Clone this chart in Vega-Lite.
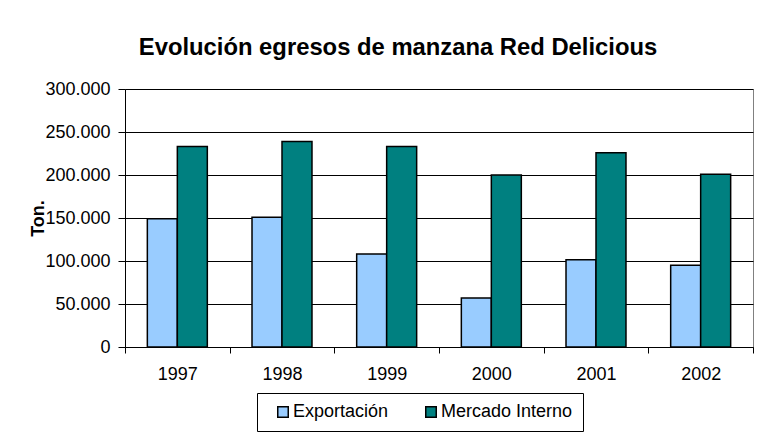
{
  "$schema": "https://vega.github.io/schema/vega-lite/v6.json",
  "autosize": "none",
  "width": 628,
  "height": 258,
  "padding": {"left": 125, "top": 89, "right": 9, "bottom": 92},
  "background": "white",
  "title": {
    "text": "Evolución egresos de manzana Red Delicious",
    "font": "Liberation Sans",
    "fontSize": 23.8,
    "fontWeight": "bold",
    "color": "#000000",
    "anchor": "middle",
    "dx": -41,
    "offset": 20
  },
  "data": {
    "values": [
      {"year": "1997", "serie": "Exportación", "ton": 149000},
      {"year": "1997", "serie": "Mercado Interno", "ton": 233000},
      {"year": "1998", "serie": "Exportación", "ton": 151000},
      {"year": "1998", "serie": "Mercado Interno", "ton": 239000},
      {"year": "1999", "serie": "Exportación", "ton": 108000},
      {"year": "1999", "serie": "Mercado Interno", "ton": 233000},
      {"year": "2000", "serie": "Exportación", "ton": 57000},
      {"year": "2000", "serie": "Mercado Interno", "ton": 200000},
      {"year": "2001", "serie": "Exportación", "ton": 101500},
      {"year": "2001", "serie": "Mercado Interno", "ton": 226000},
      {"year": "2002", "serie": "Exportación", "ton": 95000},
      {"year": "2002", "serie": "Mercado Interno", "ton": 201000}
    ]
  },
  "mark": {"type": "bar", "stroke": "#000000", "strokeWidth": 1.5},
  "encoding": {
    "x": {
      "field": "year",
      "type": "nominal",
      "scale": {"paddingInner": 0, "paddingOuter": 0},
      "axis": {
        "title": null,
        "labelAngle": 0,
        "tickBand": "extent",
        "tickSize": 6,
        "labelPadding": 12,
        "domainColor": "#000000",
        "tickColor": "#000000",
        "grid": false
      }
    },
    "xOffset": {
      "field": "serie",
      "type": "nominal",
      "scale": {"paddingInner": 0, "paddingOuter": 0.745}
    },
    "y": {
      "field": "ton",
      "type": "quantitative",
      "scale": {"domain": [0, 300000], "nice": false},
      "axis": {
        "title": "Ton.",
        "values": [0, 50000, 100000, 150000, 200000, 250000, 300000],
        "format": ",.0f",
        "tickSize": 7,
        "labelPadding": 8,
        "titlePadding": -3,
        "titleFontWeight": "bold",
        "grid": true,
        "gridColor": "#000000",
        "gridWidth": 1,
        "domainColor": "#000000",
        "tickColor": "#000000"
      }
    },
    "color": {
      "field": "serie",
      "type": "nominal",
      "scale": {"domain": ["Exportación", "Mercado Interno"], "range": ["#99CCFF", "#008080"]},
      "legend": {
        "title": null,
        "orient": "none",
        "direction": "horizontal",
        "legendX": 132,
        "legendY": 304,
        "symbolType": "square",
        "symbolSize": 110,
        "symbolStrokeColor": "#000000",
        "symbolStrokeWidth": 1.5,
        "symbolOffset": 7,
        "labelOffset": 1,
        "columnPadding": 26,
        "padding": 10,
        "strokeColor": "#000000",
        "fillColor": "white"
      }
    }
  },
  "config": {
    "locale": {"number": {"decimal": ",", "thousands": ".", "grouping": [3], "currency": ["", ""]}},
    "font": "Liberation Sans",
    "view": {"stroke": "#808080", "strokeWidth": 1},
    "axis": {
      "labelFont": "Liberation Sans",
      "labelFontSize": 18,
      "labelColor": "#000000",
      "titleFont": "Liberation Sans",
      "titleFontSize": 18,
      "titleColor": "#000000"
    },
    "legend": {
      "labelFont": "Liberation Sans",
      "labelFontSize": 18,
      "labelColor": "#000000"
    }
  }
}
